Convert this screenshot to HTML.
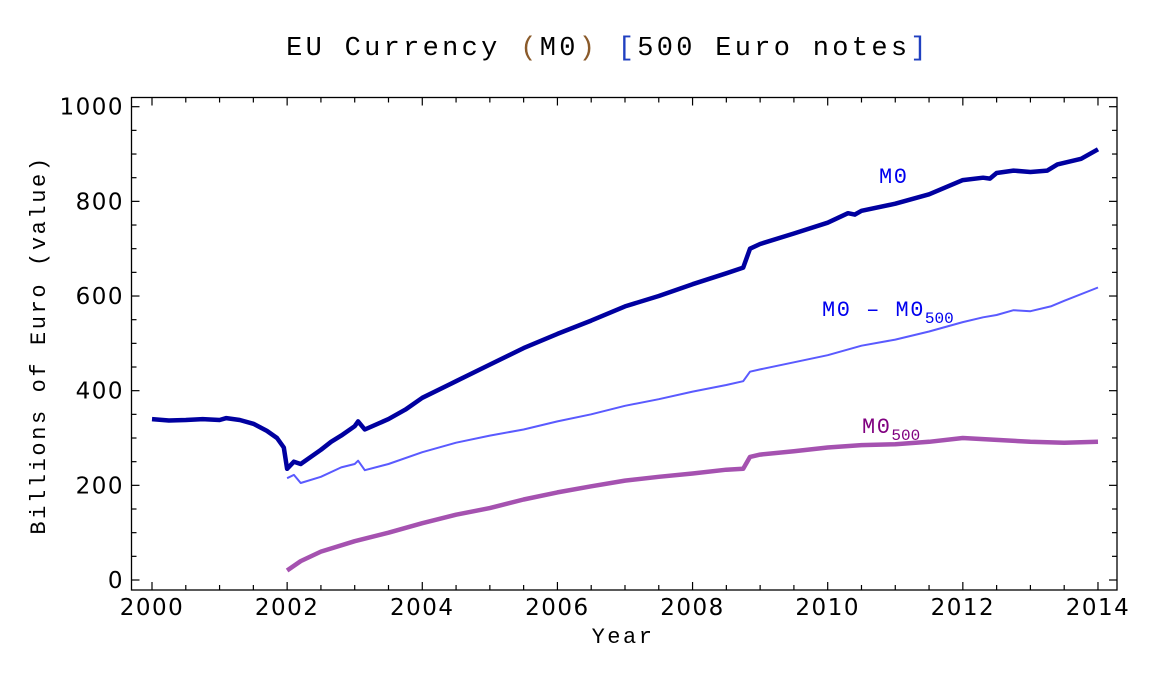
<!DOCTYPE html>
<html><head><meta charset="utf-8"><style>
body{margin:0;background:#fff;}
svg{display:block;}
.mono{font-family:"Liberation Mono","DejaVu Sans Mono",monospace;}
.tick{font-family:"DejaVu Sans","Liberation Sans",sans-serif;font-size:23px;letter-spacing:1.5px;}
</style></head><body>
<svg id="chart" width="1152" height="679">
<text class="mono" x="608" y="55" font-size="27" letter-spacing="3.3" text-anchor="middle">EU Currency <tspan fill="#8a5a2a">(</tspan>M0<tspan fill="#8a5a2a">)</tspan> <tspan fill="#2040c0">[</tspan>500 Euro notes<tspan fill="#2040c0">]</tspan></text>
<rect x="131.5" y="97.5" width="985.5" height="492.5" fill="none" stroke="#000" stroke-width="1.3"/>
<g id="ticks"></g>
<g id="series"></g>
<text class="mono" x="623" y="643" font-size="22" letter-spacing="2.5" text-anchor="middle">Year</text>
<text class="mono" transform="translate(45,345) rotate(-90)" font-size="22" letter-spacing="2.6" text-anchor="middle">Billions of Euro (value)</text>
<text class="mono" x="879" y="183" font-size="22" letter-spacing="1.5" fill="#0000ee">M0</text>
<text class="mono" x="822" y="316" font-size="22" letter-spacing="1.5" fill="#0000ee">M0 – M0<tspan font-size="16" dy="7" letter-spacing="0">500</tspan></text>
<text class="mono" x="862" y="433" font-size="22" letter-spacing="1.5" fill="#800080">M0<tspan font-size="16" dy="7" letter-spacing="0">500</tspan></text>
</svg>
<script>
const m0Years=[2000,2000.25,2000.5,2000.75,2001,2001.1,2001.3,2001.5,2001.7,2001.85,2001.95,2002,2002.1,2002.2,2002.5,2002.65,2002.8,2003,2003.05,2003.15,2003.5,2003.75,2004,2004.5,2005,2005.5,2006,2006.5,2007,2007.5,2008,2008.5,2008.75,2008.85,2009,2009.5,2010,2010.3,2010.4,2010.5,2011,2011.5,2012,2012.3,2012.4,2012.5,2012.75,2013,2013.25,2013.4,2013.75,2014];
const m0Values=[340,337,338,340,338,342,338,330,315,300,280,235,250,245,275,292,305,325,335,318,340,360,385,420,455,490,520,548,578,600,625,648,660,700,710,732,755,775,772,780,795,815,845,850,848,860,865,862,865,878,890,910];
const diffYears=[2002,2002.1,2002.2,2002.5,2002.8,2003,2003.05,2003.15,2003.5,2004,2004.5,2005,2005.5,2006,2006.5,2007,2007.5,2008,2008.5,2008.75,2008.85,2009,2009.5,2010,2010.5,2011,2011.5,2012,2012.3,2012.5,2012.75,2013,2013.3,2013.5,2014];
const diffValues=[215,222,205,218,238,245,252,232,245,270,290,305,318,335,350,368,382,398,412,420,440,445,460,475,495,508,525,545,555,560,570,568,578,590,618];
const m500Years=[2002,2002.2,2002.5,2003,2003.5,2004,2004.5,2005,2005.5,2006,2006.5,2007,2007.5,2008,2008.5,2008.75,2008.85,2009,2009.5,2010,2010.5,2011,2011.5,2012,2012.5,2013,2013.5,2014];
const m500Values=[20,40,60,82,100,120,138,152,170,185,198,210,218,225,233,235,260,265,272,280,285,287,292,300,296,292,290,292];
const xTickLabels=[2000,2002,2004,2006,2008,2010,2012,2014];
const yTickLabels=[0,200,400,600,800,1000];

const X=v=>152+(v-2000)*67.57;
const Y=v=>580-v*0.4733;
const NS="http://www.w3.org/2000/svg";
const tk=document.getElementById('ticks');
function line(g,x1,y1,x2,y2,w){const l=document.createElementNS(NS,'line');l.setAttribute('x1',x1);l.setAttribute('y1',y1);l.setAttribute('x2',x2);l.setAttribute('y2',y2);l.setAttribute('stroke','#000');l.setAttribute('stroke-width',w);g.appendChild(l);return l;}
for(let yr=2000;yr<=2014.01;yr+=0.5){
  const major=Math.abs(yr-Math.round(yr/2)*2)<0.01;const len=major?8:5;
  const a=line(tk,X(yr),590,X(yr),590-len,1.2);
  
  
  const b=line(tk,X(yr),97.5,X(yr),97.5+len,1.2);
  
  
}
for(let v=0;v<=1000;v+=50){
  const len=v%200===0?8:5;
  const a=line(tk,131.5,Y(v),131.5+len,Y(v),1.2);
  
  
  const b=line(tk,1117,Y(v),1117-len,Y(v),1.2);
  
  
}
xTickLabels.forEach(v=>{const t=document.createElementNS(NS,'text');t.setAttribute('class','tick');t.setAttribute('x',X(v));t.setAttribute('y',615);t.setAttribute('text-anchor','middle');t.textContent=v;


tk.appendChild(t);});
yTickLabels.forEach(v=>{const t=document.createElementNS(NS,'text');t.setAttribute('class','tick');t.setAttribute('x',124);t.setAttribute('y',Y(v)+8);t.setAttribute('text-anchor','end');t.textContent=v;


tk.appendChild(t);});
const sg=document.getElementById('series');
function path(xs,ys,color,w){const p=document.createElementNS(NS,'polyline');p.setAttribute('points',xs.map((x,i)=>X(x).toFixed(1)+','+Y(ys[i]).toFixed(1)).join(' '));p.setAttribute('fill','none');p.setAttribute('stroke',color);p.setAttribute('stroke-width',w);p.setAttribute('stroke-linejoin','round');sg.appendChild(p);return p;}
const p1=path(m500Years,m500Values,'#a552b0',4.5);


const p2=path(diffYears,diffValues,'#5a5aff',2);


const p3=path(m0Years,m0Values,'#0000a0',4.5);


</script>
</body></html>
